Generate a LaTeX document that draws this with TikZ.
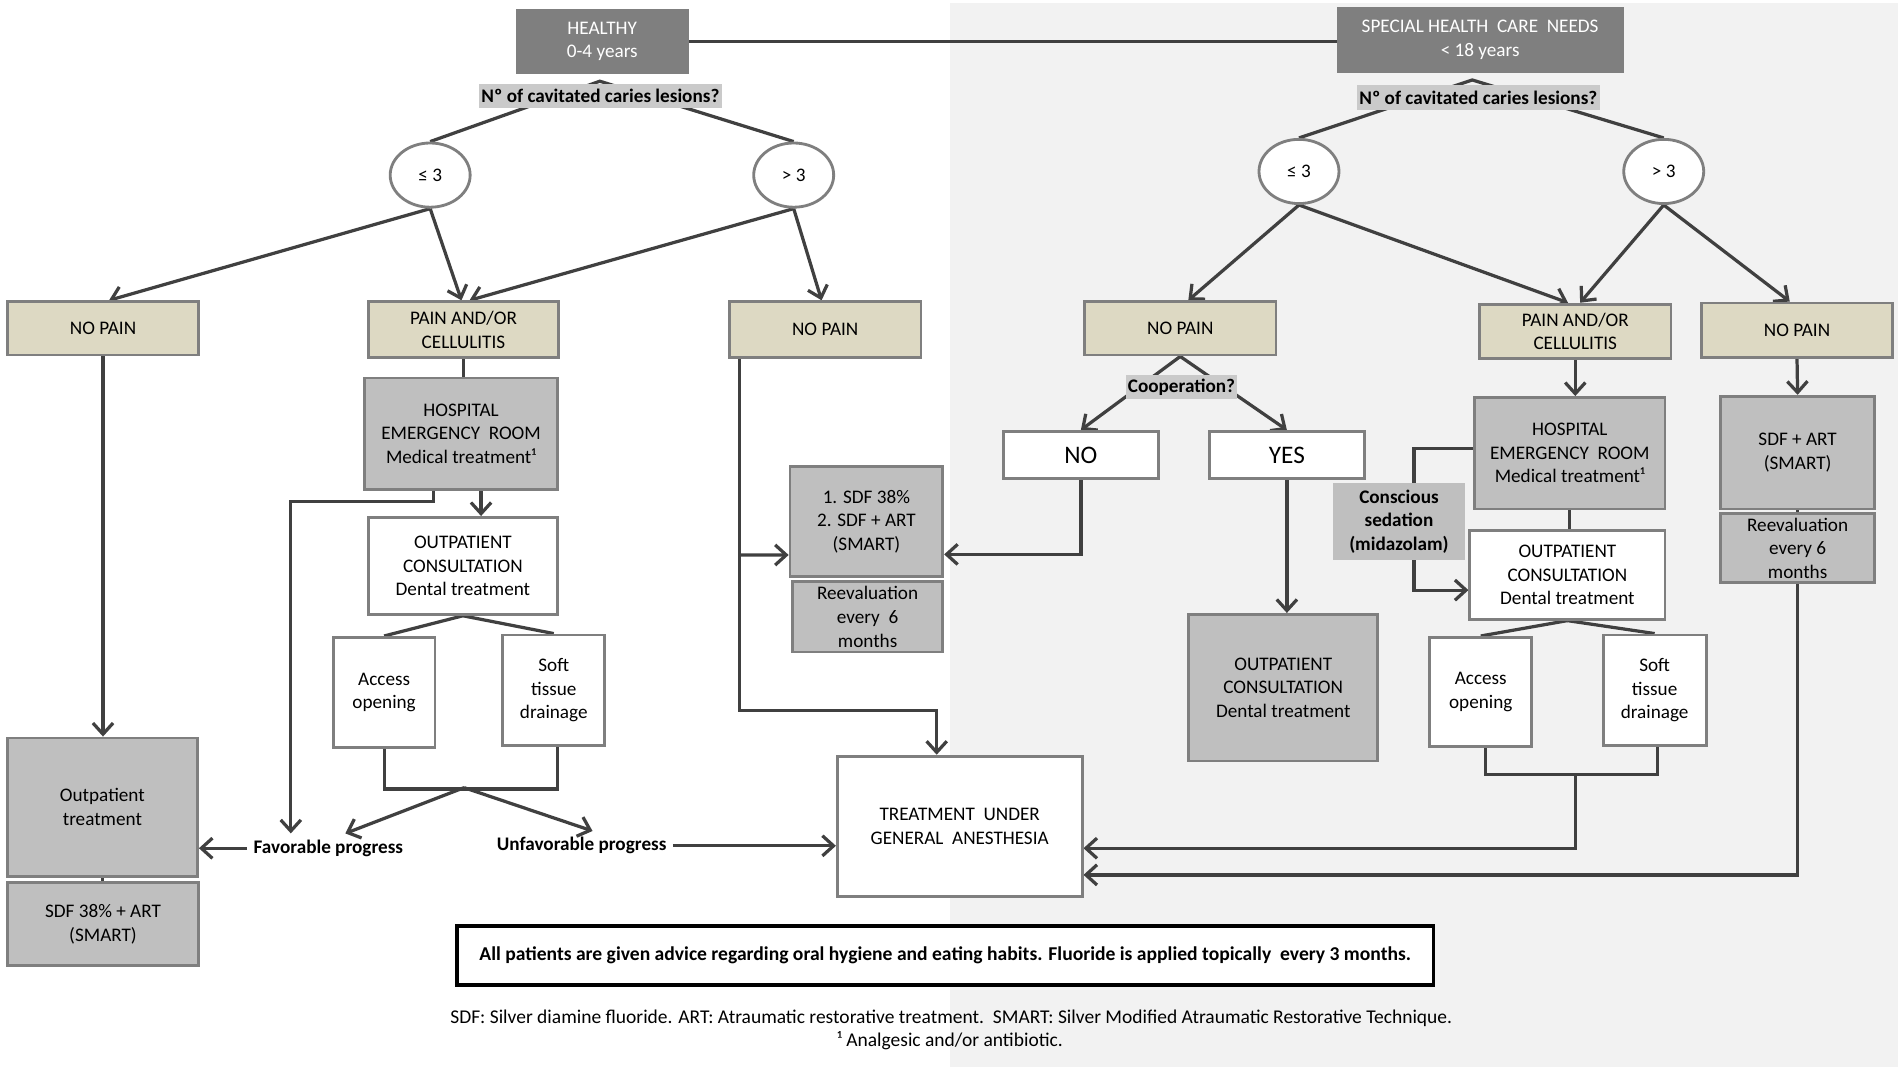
\documentclass[tikz,border=0pt]{standalone}
\usepackage{fontspec}
\setmainfont{Carlito}
\usetikzlibrary{arrows.meta,backgrounds,shapes.geometric}

\definecolor{hdrgray}{HTML}{7F7F7F}
\definecolor{edgegray}{HTML}{7F7F7F}
\definecolor{tan}{HTML}{DDD9C3}
\definecolor{boxgray}{HTML}{BFBFBF}
\definecolor{lblgray}{HTML}{CACACA}
\definecolor{arrgray}{HTML}{404040}
\definecolor{bggray}{HTML}{F2F2F2}

\tikzset{
	every node/.style={font=\fontsize{9.5}{11.7}\selectfont, inner sep=0pt, align=center},
	sz/.style 2 args={minimum width=#1*0.6pt, minimum height=#2*0.6pt},
	hdrbox/.style={draw=hdrgray, fill=hdrgray, text=white, line width=1pt},
	tanbox/.style={draw=edgegray, fill=tan, line width=1.4pt},
	gbox/.style={draw=edgegray, fill=boxgray, line width=1.4pt},
	wbox/.style={draw=edgegray, fill=white, line width=1.4pt},
	circ/.style={ellipse, draw=edgegray, fill=white, line width=1.4pt, sz={66}{53}},
	qlabel/.style={fill=lblgray, font=\fontsize{9.5}{11.7}\selectfont\bfseries},
	btext/.style={inner sep=3pt, font=\fontsize{9.5}{11.7}\selectfont\bfseries},
	lnk/.style={draw=arrgray, line width=1.6pt},
	arw/.style={lnk, -{Straight Barb[length=5.5pt,width=10pt]}},
}

\begin{document}
\begin{tikzpicture}[x=0.6pt, y=-0.6pt]
	\useasboundingbox (0,0) rectangle (1568,883);

	% top
	\node[hdrbox, sz={141}{52}] (healthy) at (497,34) {HEALTHY\\0-4 years};
	\node[hdrbox, sz={235}{53}] (special) at (1221.5,33) {SPECIAL HEALTH\ \ CARE\ \ NEEDS\\< 18 years};
	\coordinate (apL) at (495,67);
	\coordinate (apR) at (1215,66);
	\node[qlabel, sz={201}{20}] (qL) at (495.5,79) {Nº of cavitated caries lesions?};
	\node[qlabel, sz={200}{20}] (qR) at (1220,80.5) {Nº of cavitated caries lesions?};
	\node[circ] (leL) at (355,144.5) {≤ 3};
	\node[circ] (gtL) at (655,144.5) {> 3};
	\node[circ] (leR) at (1072,141.5) {≤ 3};
	\node[circ] (gtR) at (1373,141.5) {> 3};

	% pain or no pain
	\node[tanbox, sz={158}{44}] (npL) at (85,271) {NO PAIN};
	\node[tanbox, sz={157}{46}] (painL) at (382.5,272) {PAIN AND/OR\\CELLULITIS};
	\node[tanbox, sz={158}{46}] (npM) at (681,272) {NO PAIN};
	\node[tanbox, sz={158}{44}] (npR) at (974,271) {NO PAIN};
	\node[tanbox, sz={158}{45}] (painR) at (1300,273.5) {PAIN AND/OR\\CELLULITIS};
	\node[tanbox, sz={158}{45}] (npRR) at (1483,272.5) {NO PAIN};

	% healthy side
	\node[gbox, sz={157}{114}] (outL) at (84.5,666) {Outpatient\\treatment};
	\node[gbox, sz={158}{69}] (sdfL) at (85,762.5) {SDF 38\% + ART\\(SMART)};
	\node[gbox, sz={159}{92}] (hospL) at (380.5,358) {HOSPITAL\\EMERGENCY\ \ ROOM\\Medical treatment¹};
	\node[wbox, sz={156}{80}] (outcL) at (382,467) {OUTPATIENT\\CONSULTATION\\Dental treatment};
	\node[wbox, sz={84}{91}] (accL) at (317,571.5) {Access\\opening};
	\node[wbox, sz={84}{91}] (softL) at (457,569.5) {Soft\\tissue\\drainage};
	\node[btext] (favL) at (271,700) {Favorable progress};
	\node[btext] (unfavL) at (480,698) {Unfavorable progress};
	\node[gbox, sz={126}{91}] (sdfM) at (715,430.5) {1. SDF 38\%\\2. SDF + ART\\(SMART)};
	\node[gbox, sz={124}{58}] (reevM) at (716,509) {Reevaluation\\every\ \ 6\\months};
	\node[wbox, sz={202}{116}] (treat) at (792,682) {TREATMENT\ \ UNDER\\GENERAL\ \ ANESTHESIA};

	% special needs side
	\node[qlabel, sz={92}{20}] (coop) at (975,319.5) {Cooperation?};
	\node[wbox, sz={128}{39}, font=\fontsize{12.5}{14}\selectfont] (noR) at (892,375.5) {NO};
	\node[wbox, sz={128}{39}, font=\fontsize{12.5}{14}\selectfont] (yesR) at (1062,375.5) {YES};
	\node[gbox, sz={156}{121}] (outcG) at (1059,567.5) {OUTPATIENT\\CONSULTATION\\Dental treatment};
	\node[gbox, sz={157}{92}] (hospR) at (1295.5,374) {HOSPITAL\\EMERGENCY\ \ ROOM\\Medical treatment¹};
	\node[wbox, sz={161}{73}] (outcR) at (1293.5,474.5) {OUTPATIENT\\CONSULTATION\\Dental treatment};
	\node[qlabel, fill=boxgray, sz={109}{63}] (sedR) at (1154.5,430.5) {Conscious\\sedation\\(midazolam)};
	\node[wbox, sz={84}{90}] (accR) at (1222,571) {Access\\opening};
	\node[wbox, sz={85}{91}] (softR) at (1365.5,569.5) {Soft\\tissue\\drainage};
	\node[gbox, sz={127}{93}] (sdfR) at (1483.5,373.5) {SDF + ART\\(SMART)};
	\node[gbox, sz={127}{57}] (reevR) at (1483.5,452.5) {Reevaluation\\every 6\\months};

	% note and footnotes
	\node[draw=black, fill=white, line width=1.8pt, sz={806}{49}, font=\fontsize{9.7}{11.7}\selectfont\bfseries] (note) at (780,788.5) {All patients are given advice regarding oral hygiene and eating habits. Fluoride is applied topically\ \ every 3 months.};
	\node[font=\fontsize{9.65}{11.7}\selectfont] (foot) at (785,840) {SDF: Silver diamine fluoride. ART: Atraumatic restorative treatment.\ \ SMART: Silver Modified Atraumatic Restorative Technique.};
	\node[font=\fontsize{9.65}{11.7}\selectfont] (foot2) at (784,859) {¹ Analgesic and/or antibiotic.};

	\coordinate (jM) at (610,458);
	\coordinate (brL) at (383,650);
	\coordinate (brR) at (1300,638);

	\begin{scope}[on background layer]
		\fill[bggray] (784,2.5) rectangle (1566,880.5);
		\draw[lnk] (healthy.east) -- (healthy.east -| special.west);
		\draw[lnk] (leL.north) -- (apL) -- (gtL.north);
		\draw[lnk] (leR.north) -- (apR) -- (gtR.north);

		\draw[arw] (leL.south) -- ([xshift=3pt]npL.north);
		\draw[arw] (leL.south) -- ([xshift=-1pt]painL.north);
		\draw[arw] (gtL.south) -- ([xshift=3pt]painL.north);
		\draw[arw] (gtL.south) -- ([xshift=-1.8pt]npM.north);
		\draw[arw] (leR.south) -- ([xshift=4pt]npR.north);
		\draw[arw] (leR.south) -- ([xshift=-3.6pt]painR.north);
		\draw[arw] (gtR.south) -- ([xshift=2.4pt]painR.north);
		\draw[arw] (gtR.south) -- ([xshift=-3.6pt]npRR.north);

		\draw[arw] (npL.south) -- (npL.south |- outL.north);
		\draw[lnk] (outL.south) -- (outL.south |- sdfL.north);
		\draw[arw] (favL.west) -- (favL.west -| outL.east);
		\draw[lnk] (painL.south) -- (painL.south |- hospL.north);
		\draw[arw] ([xshift=9.9pt]hospL.south) -- ([xshift=9.9pt]hospL.south |- outcL.north);
		\draw[arw] ([xshift=-13.5pt]hospL.south) -- ++(0,9) -| ([xshift=-18.6pt]favL.north);
		\draw[lnk] (outcL.south) -- (accL.north);
		\draw[lnk] (outcL.south) -- (softL.north);
		\draw[lnk] (accL.south) -- ++(0,33) -| ([xshift=1.8pt]softL.south);
		\draw[arw] (brL) -- ([xshift=8.4pt]favL.north);
		\draw[arw] (brL) -- ([xshift=5.4pt]unfavL.north);
		\draw[arw] (unfavL.east) -- (unfavL.east -| treat.west);

		\draw[arw] ([xshift=-42.6pt]npM.south) -- ++(0,290) -| ([xshift=-11.4pt]treat.north);
		\draw[arw] (jM) -- ([yshift=-16.5pt]sdfM.west);
		\draw[arw] (npR.south) -- (noR.north);
		\draw[arw] (npR.south) -- (yesR.north);
		\draw[arw] (noR.south) |- ([yshift=-16.2pt]sdfM.east);
		\draw[arw] (yesR.south) -- (yesR.south |- outcG.north);

		\draw[arw] (painR.south) -- (painR.south |- hospR.north);
		\draw[lnk] (hospR.south) -- (hospR.south |- outcR.north);
		\draw[arw] ([yshift=2.4pt]hospR.west) -- ++(-49,0) |- ([yshift=-7.5pt]outcR.west);
		\draw[lnk] (outcR.south) -- (accR.north);
		\draw[lnk] (outcR.south) -- (softR.north);
		\draw[lnk] ([xshift=2.4pt]accR.south) -- ++(0,22) -| ([xshift=1.5pt]softR.south);
		\draw[arw] (brR) |- ([yshift=-10.8pt]treat.east);
		\draw[arw] (npRR.south) -- (sdfR.north);
		\draw[lnk] (sdfR.south) -- (reevR.north);
		\draw[arw] (reevR.south) |- ([yshift=-24pt]treat.east);
	\end{scope}
\end{tikzpicture}
\end{document}
